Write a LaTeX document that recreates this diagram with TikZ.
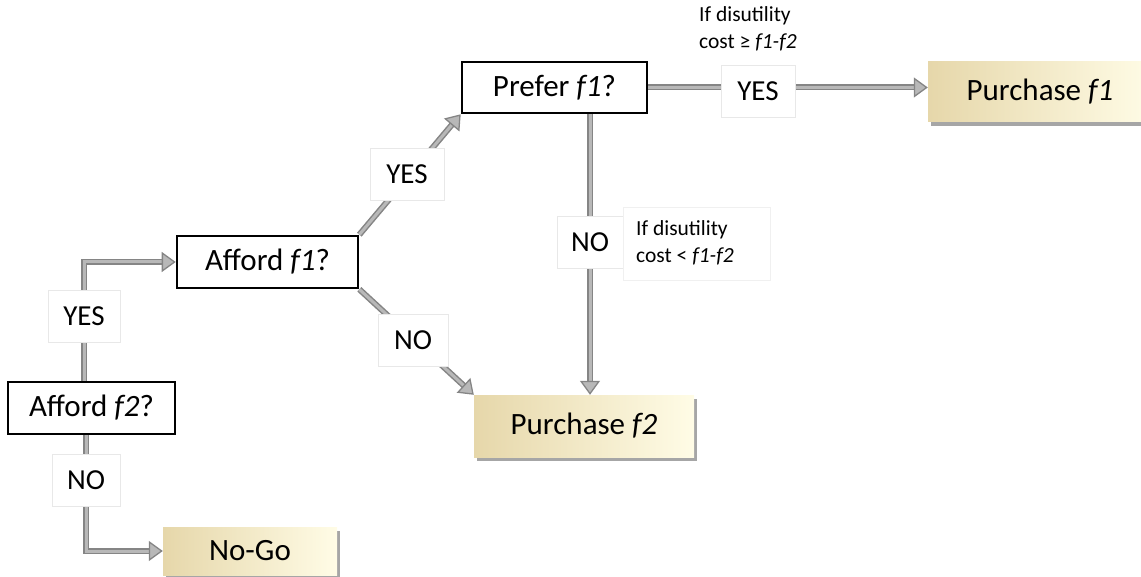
\documentclass[tikz,border=0pt]{standalone}
\usepackage{fontspec}
\setmainfont{Carlito}
\usetikzlibrary{arrows.meta,shadows,calc}
\pgfdeclarelayer{background}
\pgfsetlayers{background,main}
\definecolor{lineout}{HTML}{858585}
\definecolor{linein}{HTML}{B8B8B8}
\definecolor{tanL}{HTML}{E6D7AA}
\definecolor{tanM}{HTML}{F8F0D0}
\definecolor{tanR}{HTML}{FFFCE6}
\tikzset{
  decision/.style={draw=black, line width=2.6pt, fill=white, inner sep=0pt, font=\fontsize{31}{36}\selectfont},
  outcome/.style={inner sep=0pt, left color=tanL, middle color=tanM, right color=tanR, font=\fontsize{31}{36}\selectfont,
    drop shadow={shadow xshift=3pt, shadow yshift=-4pt, opacity=0.35, fill=black}},
  lbl/.style={draw=gray!18, line width=0.6pt, fill=white, inner sep=0pt, font=\fontsize{29}{34}\selectfont},
  note/.style={inner sep=0pt, align=left, font=\fontsize{21.5}{27}\selectfont},
  arr/.style={line width=3pt, draw=linein,
    -{Triangle[length=14pt,width=20pt,fill=linein,color=lineout,line width=1.3pt]},
    preaction={draw=lineout, line width=6pt, arrows=-, shorten >=12pt}}
}
\begin{document}
\begin{tikzpicture}[x=1pt,y=-1pt]
\useasboundingbox (0,0) rectangle (1141,577);
% main boxes
\node[decision, minimum width=185pt, minimum height=51pt] (prefer) at (554.5,87.5) {Prefer \textit{f1}?};
\node[outcome, minimum width=224pt, minimum height=60pt] (pf1) at (1040,92) {Purchase \textit{f1}};
\node[decision, minimum width=181pt, minimum height=52pt] (afford1) at (267.5,262) {Afford \textit{f1}?};
\node[outcome, minimum width=220pt, minimum height=62pt] (pf2) at (584,426) {Purchase \textit{f2}};
\node[decision, minimum width=167pt, minimum height=52pt] (afford2) at (91.5,408) {Afford \textit{f2}?};
\node[outcome, minimum width=174pt, minimum height=48pt] (nogo) at (250,551) {No-Go};
% labels
\node[lbl, minimum width=74pt, minimum height=52pt] (yes1) at (758,91) {YES};
\node[note, anchor=west] (cond1) at (699,29) {If disutility\\cost ≥ \textit{f1-f2}};
\node[lbl, minimum width=74pt, minimum height=52pt] (yes2) at (407,174) {YES};
\node[lbl, minimum width=70pt, minimum height=52pt] (no2) at (413,340) {NO};
\node[lbl, minimum width=66pt, minimum height=52pt] (no3) at (590,242) {NO};
\node[draw=gray!12, line width=0.6pt, fill=white, minimum width=147pt, minimum height=73pt] (cond2box) at (696.5,243.5) {};
\node[note, anchor=west] (cond2) at (636,243) {If disutility\\cost < \textit{f1-f2}};
\node[lbl, minimum width=72pt, minimum height=52pt] (yes3) at (84,316) {YES};
\node[lbl, minimum width=68pt, minimum height=52pt] (no4) at (86,480) {NO};
% connectors
\begin{pgfonlayer}{background}
\draw[arr] (prefer.east) -- (prefer.east -| pf1.west);
\draw[arr] (afford1.north east) -- (prefer.south west);
\draw[arr] (afford1.south east) -- (pf2.north west);
\draw[arr] (prefer.south -| no3) -- (pf2.north -| no3);
\draw[arr] (afford2.north -| yes3) |- (afford1.west);
\draw[arr] (afford2.south -| no4) |- (nogo.west);
\end{pgfonlayer}
\end{tikzpicture}
\end{document}
